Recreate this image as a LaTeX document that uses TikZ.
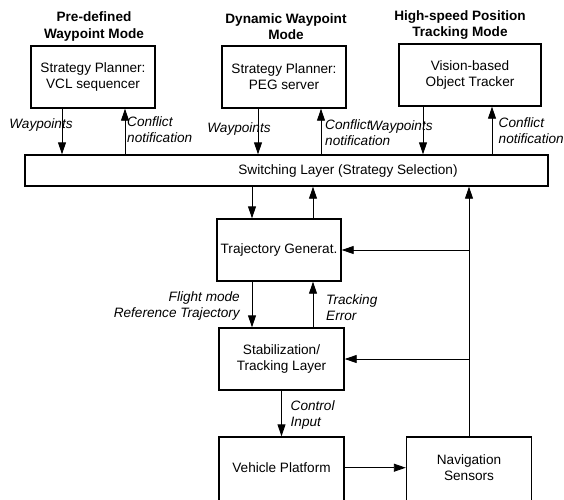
\documentclass[tikz,border=0pt]{standalone}
\usepackage{fontspec}
\setmainfont{Liberation Sans}
\usetikzlibrary{arrows.meta}
\begin{document}
\begin{tikzpicture}[x=1pt,y=-1pt,
  every node/.style={font=\fontsize{13.6}{16}\selectfont},
  blk/.style={draw,line width=1.4pt,inner sep=0pt,align=center},
  ttl/.style={font=\fontsize{13.6}{16.5}\selectfont\bfseries,align=center,inner sep=0pt},
  lbl/.style={font=\fontsize{13.6}{16}\selectfont\itshape,inner sep=0pt},
  arr/.style={-{Triangle[length=12pt,width=8pt]},line width=0.9pt},
]
\useasboundingbox (0,0) rectangle (564,499);
% boxes
\node[blk,minimum width=124pt,minimum height=62pt] (vcl) at (93,77) {Strategy Planner:\\VCL sequencer};
\node[blk,minimum width=124pt,minimum height=62pt] (peg) at (284,77) {Strategy Planner:\\PEG server};
\node[blk,minimum width=142pt,minimum height=62pt] (vis) at (470,75) {Vision-based\\Object Tracker};
\node[blk,minimum width=523pt,minimum height=31pt] (sw) at (286.5,170.5) {};
\node[inner sep=0pt] (swl) at (348,170.5) {Switching Layer (Strategy Selection)};
\node[blk,minimum width=124pt,minimum height=62pt] (traj) at (279,250) {Trajectory Generat.};
\node[blk,minimum width=125pt,minimum height=62pt] (stab) at (281.5,359) {Stabilization/\\Tracking Layer};
\node[blk,minimum width=125pt,minimum height=66pt] (veh) at (281.5,470) {};
\node[inner sep=0pt] (vehl) at (281.5,467.7) {Vehicle Platform};
\node[blk,minimum width=125pt,minimum height=66pt] (nav) at (469,470) {};
\node[inner sep=0pt,align=center] (navl) at (469,468) {Navigation\\Sensors};
% titles
\node[ttl] (t1) at (94,26.5) {Pre-defined\\Waypoint Mode};
\node[ttl] (t2) at (286,26.5) {Dynamic Waypoint\\Mode};
\node[ttl] (t3) at (460,25) {High-speed Position\\Tracking Mode};
% top arrows
\draw[arr] (vcl.south -| 62,0) -- (sw.north -| 62,0);
\draw[arr] (sw.north -| 125,0) -- (vcl.south -| 125,0);
\draw[arr] (peg.south -| 258,0) -- (sw.north -| 258,0);
\draw[arr] (sw.north -| 321,0) -- (peg.south -| 321,0);
\draw[arr] (vis.south -| 423,0) -- (sw.north -| 423,0);
\draw[arr] (sw.north -| 492,0) -- (vis.south -| 492,0);
% top labels
\node[lbl] (w1) at (41,125) {Waypoints};
\node[lbl,anchor=west,align=left] (c1) at (127,130) {Conflict\\notification};
\node[lbl] (w2) at (239,129) {Waypoints};
\node[lbl,anchor=west,align=left] (c2) at (325,133) {Conflict\\notification};
\node[lbl] (w3) at (401,127) {Waypoints};
\node[lbl,anchor=west,align=left] (c3) at (498.5,131) {Conflict\\notification};
% middle arrows
\draw[arr] (sw.south -| 252,0) -- (traj.north -| 252,0);
\draw[arr] (traj.north -| 313,0) -- (sw.south -| 313,0);
\draw[arr] (traj.south -| 252,0) -- (stab.north -| 252,0);
\draw[arr] (stab.north -| 313,0) -- (traj.south -| 313,0);
\draw[arr] (stab.south -| veh.north) -- (veh.north);
\draw[arr] (vehl.east -| veh.east) -- (vehl.east -| nav.west);
% feedback
\draw[arr] (nav.north) -- (nav.north |- sw.south);
\draw[arr] (nav.north |- traj.east) -- (traj.east);
\draw[arr] (nav.north |- stab.east) -- (stab.east);
% middle labels
\node[lbl,anchor=east,align=right] (fm) at (240,306) {Flight mode\\Reference Trajectory};
\node[lbl,anchor=west,align=left] (te) at (326,308) {Tracking\\Error};
\node[lbl,anchor=west,align=left] (ci) at (290.5,414.5) {Control\\Input};
\end{tikzpicture}
\end{document}
